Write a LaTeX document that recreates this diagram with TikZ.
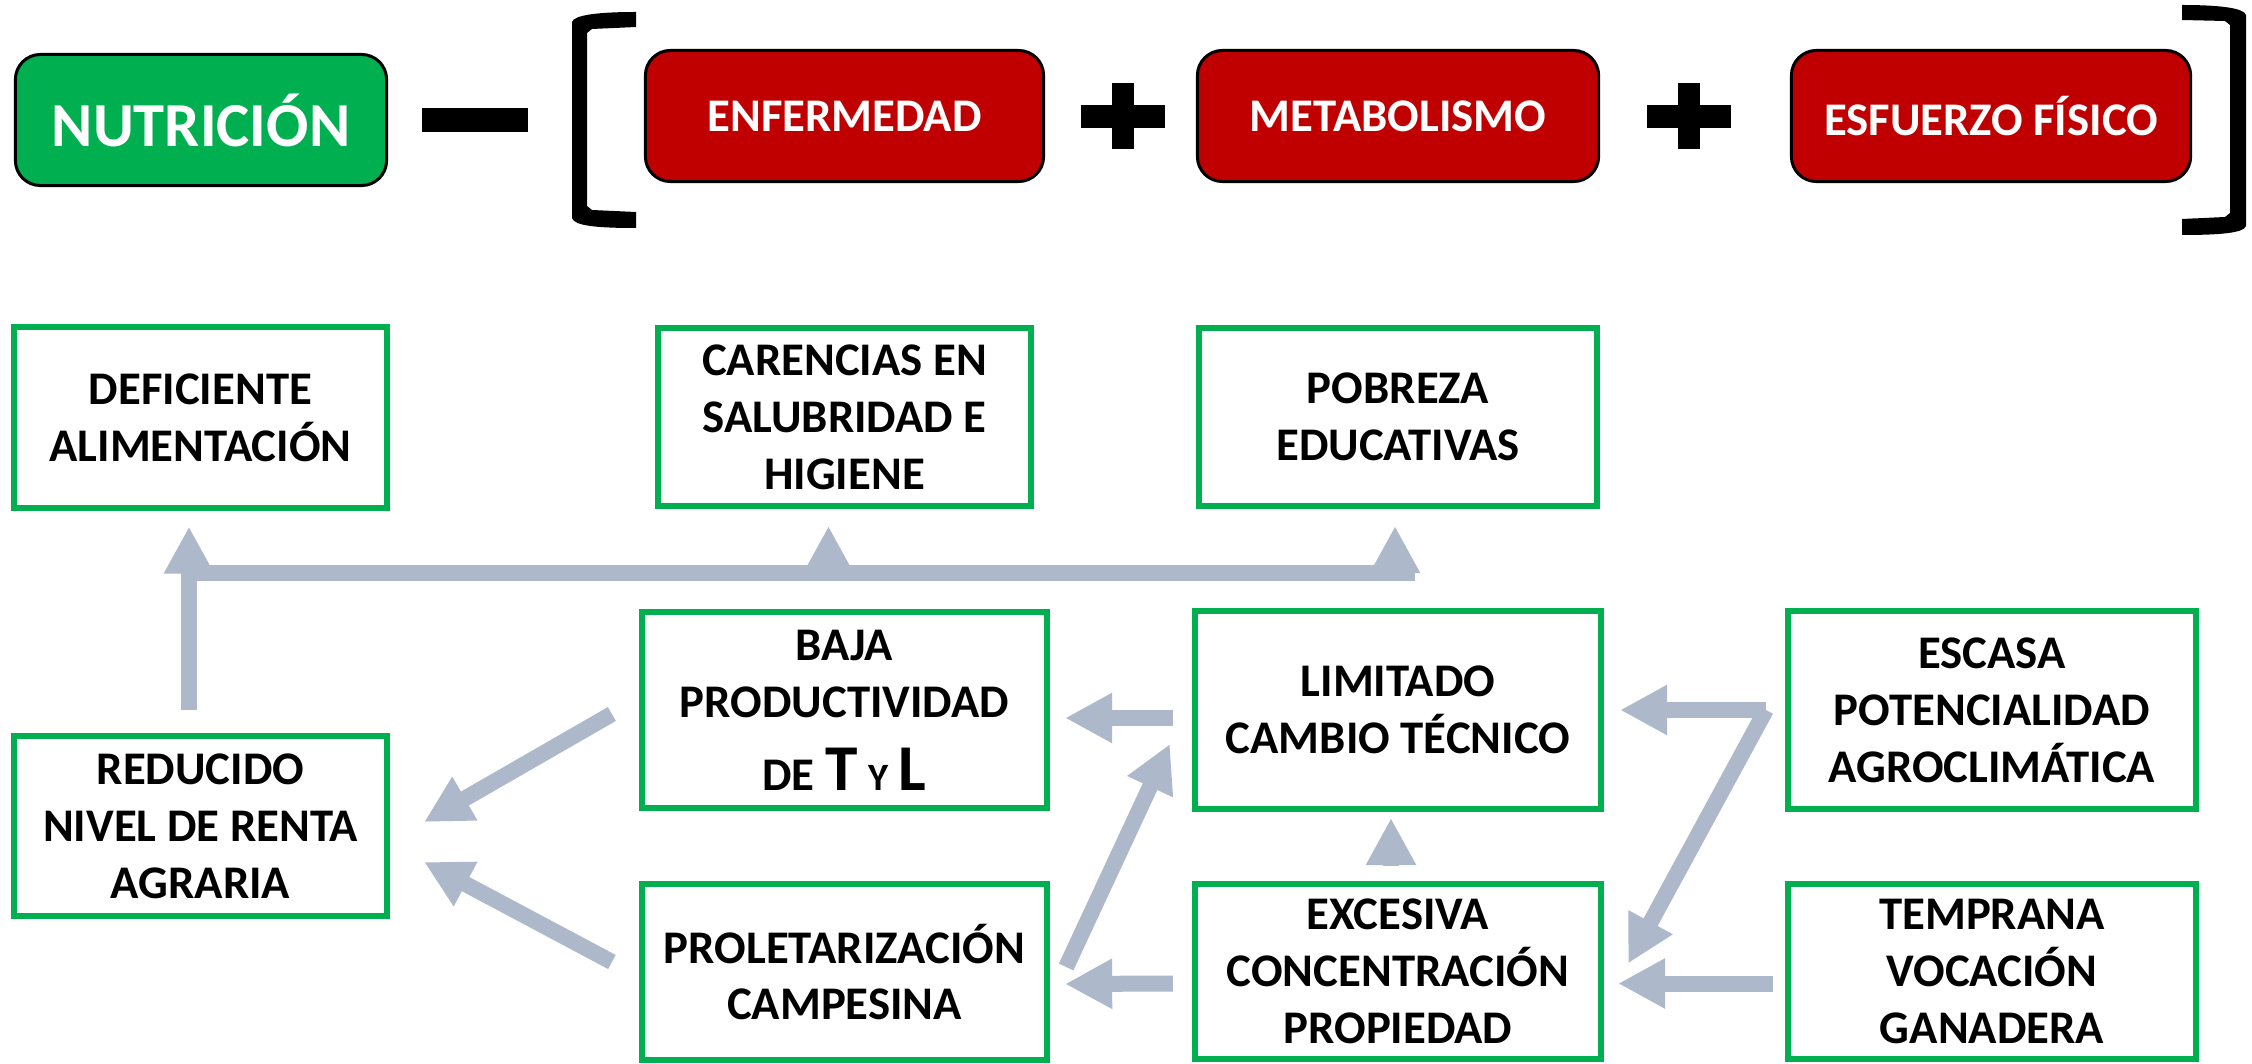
\documentclass[tikz,border=0pt]{standalone}
\usepackage{fontspec}
\setmainfont{Carlito}
\usetikzlibrary{arrows.meta,calc}
\definecolor{verde}{HTML}{00B050}
\definecolor{rojo}{HTML}{C00000}
\definecolor{gris}{HTML}{ADB9CA}
\begin{document}
\begin{tikzpicture}[x=0.01cm, y=-0.01cm, >={Triangle[length=4.7mm,width=4.7mm]},
  caja/.style={draw=verde, line width=0.06cm, minimum width=3.73cm, minimum height=1.8cm, inner sep=0pt, align=center, font=\fontsize{13.3}{16.2}\selectfont\bfseries},
  boton/.style={draw=black, line width=0.03cm, rounded corners=0.25cm, fill=rojo, text=white, minimum width=4cm, minimum height=1.31cm, font=\fontsize{13.3}{16}\selectfont\bfseries},
  flecha/.style={gris, line width=0.16cm, ->},
  linea/.style={gris, line width=0.16cm}]
\useasboundingbox (0,0) rectangle (2252,1064);

\node[boton, fill=verde, minimum width=3.71cm, font=\fontsize{17.8}{20}\selectfont\bfseries] (nutri) at (201,120) {NUTRICIÓN};
\node[boton, minimum width=3.98cm] (enfer) at (844.5,116) {ENFERMEDAD};
\node[boton, minimum width=4.01cm] (metab) at (1398,116) {METABOLISMO};
\node[boton, minimum width=3.99cm] (esfue) at (1991,116) {ESFUERZO FÍSICO};

\fill (422,108) rectangle (528,132);
\foreach \px in {1123,1689}{
  \fill (\px-42,105) rectangle (\px+42,128);
  \fill (\px-11,83) rectangle (\px+11,149);
}
\fill (636,12) .. controls (598,12) and (574,15) .. (572,22) -- (572,218) .. controls (574,226) and (598,228) .. (636,228) -- (636,212) -- (592,210) -- (587,206) -- (587,33) -- (592,29) -- (636,27) -- cycle;
\fill (2182,5) .. controls (2220,5) and (2244,8) .. (2246,15) -- (2246,226) .. controls (2244,233) and (2220,235) .. (2182,235) -- (2182,219) -- (2225,217) -- (2230,213) -- (2230,25) -- (2225,21) -- (2182,20) -- cycle;

\node[caja] (defi) at (200.5,417.5) {DEFICIENTE\\ALIMENTACIÓN};
\node[caja, minimum height=1.78cm] (caren) at (844.5,417) {CARENCIAS EN\\SALUBRIDAD E\\HIGIENE};
\node[caja, minimum width=3.98cm, minimum height=1.78cm] (pobre) at (1398,417) {POBREZA\\EDUCATIVAS};
\node[caja, minimum width=4.05cm, minimum height=1.96cm] (baja) at (844.5,710) {BAJA\\PRODUCTIVIDAD\\[4.6pt]DE {\fontsize{18.6}{20}\selectfont T} {\fontsize{11}{13}\selectfont Y} {\fontsize{18.6}{20}\selectfont L}};
\node[caja, minimum width=4.06cm, minimum height=1.98cm] (limit) at (1398,710) {LIMITADO\\CAMBIO TÉCNICO};
\node[caja, minimum width=4.08cm, minimum height=1.98cm] (escas) at (1992,710) {ESCASA\\POTENCIALIDAD\\AGROCLIMÁTICA};
\node[caja] (reduc) at (200.5,826) {REDUCIDO\\NIVEL DE RENTA\\AGRARIA};
\node[caja, minimum width=4.05cm, minimum height=1.76cm] (prole) at (844.5,972) {PROLETARIZACIÓN\\CAMPESINA};
\node[caja, minimum width=4.06cm, minimum height=1.75cm] (exces) at (1398,971.5) {EXCESIVA\\CONCENTRACIÓN\\PROPIEDAD};
\node[caja, minimum width=4.08cm, minimum height=1.75cm] (tempr) at (1992,971.5) {TEMPRANA\\VOCACIÓN\\GANADERA};

% tronco hacia arriba
\coordinate (t0) at ($(reduc.north)+(-11.5,-23)$);
\coordinate (hl) at (189,573);
\coordinate (hr) at (1415,573);
\draw[flecha] (t0) -- ($(defi.south)+(-11.5,16)$);
\draw[linea] (hl) -- (hr);
\draw[flecha] ($(caren.south |- hl)+(-16,8)$) -- ($(caren.south)+(-16,17)$);
\draw[flecha] ($(pobre.south |- hl)+(-3,8)$) -- ($(pobre.south)+(-3,17)$);

\coordinate (ej) at ($(escas.west)+(-19,0)$);
\draw[flecha] ($(limit.west)+(-19,8)$) -- ($(baja.east)+(15,8)$);
\draw[flecha] (ej) -- ($(limit.east)+(16,0)$);
\draw[flecha] (ej) -- ($(exces.east)+(24,-8)$);
\draw[flecha] ($(exces.north)+(-7,-15)$) -- ($(limit.south)+(-7,6)$);
\draw[flecha] ($(tempr.west)+(-12,12)$) -- ($(exces.east)+(14,12)$);
\draw[flecha] ($(exces.west)+(-19,12)$) -- ($(prole.east)+(15,12)$);
\draw[flecha] ($(prole.east)+(16,-5)$) -- ($(limit.west)+(-22,34)$);
\draw[flecha] ($(baja.west)+(-27,4)$) -- ($(reduc.east)+(34,-4)$);
\draw[flecha] ($(prole.west)+(-27,-10)$) -- ($(reduc.east)+(34,36)$);
\end{tikzpicture}
\end{document}
